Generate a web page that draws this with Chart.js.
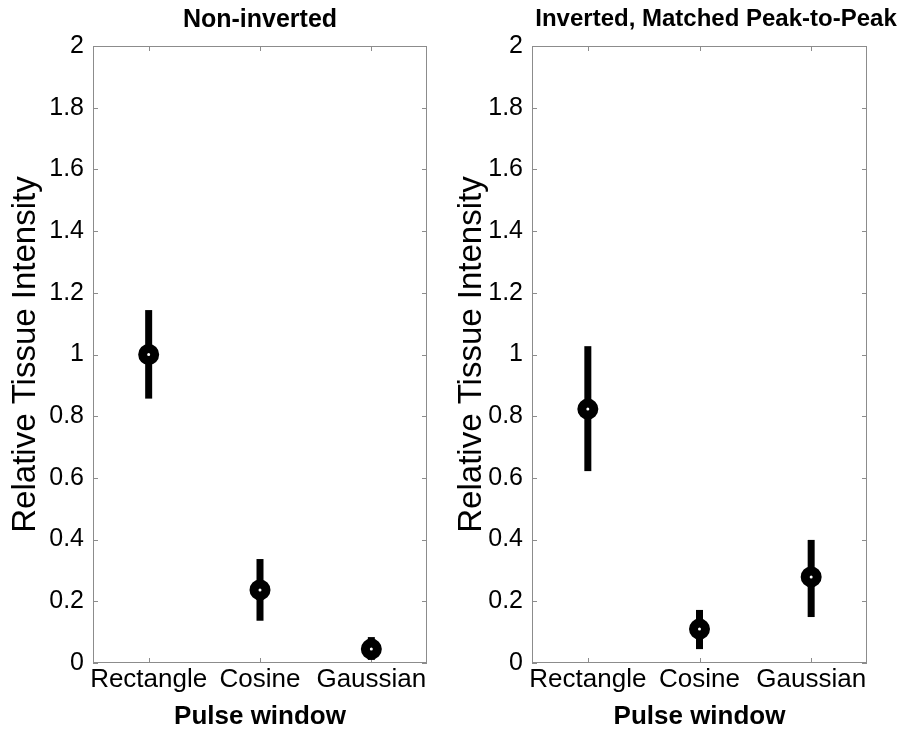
<!DOCTYPE html>
<html>
<head>
<meta charset="utf-8">
<script src="https://cdn.jsdelivr.net/npm/chart.js@4.4.1/dist/chart.umd.min.js"></script>
<style>
  html, body { margin: 0; padding: 0; background: #fff; overflow: hidden; }
  #wrap { position: relative; width: 903px; height: 733px; overflow: hidden; }
  canvas { position: absolute; top: 0; }
  #left { left: 0; }
  #right { left: 450px; }
</style>
</head>
<body>
<div id="wrap">
  <canvas id="left" width="450" height="733"></canvas>
  <canvas id="right" width="532" height="733"></canvas>
</div>
<script>
const categories = ['Rectangle', 'Cosine', 'Gaussian'];
const catPos = [1, 2, 3];

const yTickVals = [0, 0.2, 0.4, 0.6, 0.8, 1, 1.2, 1.4, 1.6, 1.8, 2];
const yTickLabels = ['0', '0.2', '0.4', '0.6', '0.8', '1', '1.2', '1.4', '1.6', '1.8', '2'];

// left panel
const nonInvMean = [1.0, 0.237, 0.045];
const nonInvLow = [0.857, 0.137, 0.010];
const nonInvHigh = [1.144, 0.337, 0.084];

// right panel
const invMean = [0.823, 0.110, 0.279];
const invLow = [0.622, 0.045, 0.149];
const invHigh = [1.027, 0.172, 0.399];

const FONT = '"Liberation Sans", Arial, Helvetica, sans-serif';
const GRAY = '#8c8c8c';

// box round the axes plus inward tick marks (matlab look)
const framePlugin = {
  id: 'frame',
  beforeDatasetsDraw(chart) {
    const { ctx, chartArea: a, scales } = chart;
    const tl = 5;
    ctx.save();
    ctx.strokeStyle = GRAY;
    ctx.lineWidth = 1;
    ctx.strokeRect(a.left + 0.5, a.top + 0.5, a.right - a.left - 1, a.bottom - a.top - 1);
    ctx.beginPath();
    scales.y.ticks.forEach(t => {
      const py = Math.round(scales.y.getPixelForValue(t.value)) + 0.5;
      ctx.moveTo(a.left, py); ctx.lineTo(a.left + tl, py);
      ctx.moveTo(a.right, py); ctx.lineTo(a.right - tl, py);
    });
    scales.x.ticks.forEach(t => {
      const px = Math.round(scales.x.getPixelForValue(t.value)) + 0.5;
      ctx.moveTo(px, a.bottom); ctx.lineTo(px, a.bottom - tl);
      ctx.moveTo(px, a.top); ctx.lineTo(px, a.top + tl);
    });
    ctx.stroke();
    ctx.restore();
  }
};

// o: axisW = y axis width, padRight = empty space right of the plot box,
// fullTitle = title centred on the whole canvas instead of on the plot box
const makeChart = (id, title, means, lows, highs, o) => {
  const datasets = [{
    label: 'mean',
    data: catPos.map((x, i) => ({ x: x, y: means[i] })),
    pointRadius: 6,
    pointBorderWidth: 9,
    pointBorderColor: '#000',
    pointBackgroundColor: '#fff',
    pointHoverRadius: 6,
    showLine: false,
    clip: false
  }];

  catPos.forEach((x, i) => {
    datasets.push({
      label: 'err' + i,
      data: [{ x: x, y: lows[i] }, { x: x, y: highs[i] }],
      showLine: true,
      borderColor: '#000',
      borderWidth: 7,
      borderCapStyle: 'butt',
      pointRadius: 0,
      clip: false
    });
  });

  const titleSize = o.titleSize;
  const tPadTop = 5;
  const tPadBot = 46 - tPadTop - titleSize * 1.2;

  return new Chart(document.getElementById(id), {
    type: 'scatter',
    data: { datasets: datasets },
    options: {
      responsive: false,
      animation: false,
      layout: { padding: 0 },
      plugins: {
        legend: { display: false },
        tooltip: { enabled: false },
        title: {
          display: true,
          text: title,
          fullSize: o.fullTitle,
          color: '#000',
          font: { family: FONT, size: titleSize, weight: 'bold', lineHeight: 1.2 },
          padding: { top: tPadTop, bottom: tPadBot }
        }
      },
      scales: {
        x: {
          type: 'linear',
          min: 0.5,
          max: 3.5,
          afterBuildTicks: (s) => { s.ticks = catPos.map(v => ({ value: v })); },
          afterFit: (s) => { s.height = 70; },
          grid: { display: false, drawTicks: false },
          border: { display: false },
          ticks: {
            color: '#000',
            padding: 1,
            maxRotation: 0,
            autoSkip: false,
            font: { family: FONT, size: 26 },
            callback: (v) => categories[catPos.indexOf(v)]
          },
          title: {
            display: true,
            text: 'Pulse window',
            color: '#000',
            font: { family: FONT, size: 26, weight: 'bold', lineHeight: 1.2 },
            padding: { top: 0, bottom: 1 }
          }
        },
        y: {
          min: 0,
          max: 2,
          afterBuildTicks: (s) => { s.ticks = yTickVals.map(v => ({ value: v })); },
          afterFit: (s) => { s.width = o.axisW; },
          grid: { display: false, drawTicks: false },
          border: { display: false },
          ticks: {
            color: '#000',
            padding: 9,
            font: { family: FONT, size: 25 },
            callback: (v) => yTickLabels[yTickVals.indexOf(v)]
          },
          title: {
            display: true,
            text: 'Relative Tissue Intensity',
            color: '#000',
            font: { family: FONT, size: 33, lineHeight: 1.2 },
            padding: { top: o.yTitlePad, bottom: 0 }
          }
        },
        // empty right-hand strip, only reserves space
        yPad: {
          position: 'right',
          min: 0,
          max: 2,
          afterFit: (s) => { s.width = o.padRight; },
          grid: { display: false, drawTicks: false },
          border: { display: false },
          ticks: { display: false }
        }
      }
    },
    plugins: [framePlugin]
  });
};

makeChart('left', 'Non-inverted', nonInvMean, nonInvLow, nonInvHigh,
  { axisW: 93, padRight: 23, yTitlePad: 6, fullTitle: false, titleSize: 25 });
makeChart('right', 'Inverted, Matched Peak-to-Peak', invMean, invLow, invHigh,
  { axisW: 82, padRight: 115, yTitlePad: 2, fullTitle: true, titleSize: 24 });
</script>
</body>
</html>
